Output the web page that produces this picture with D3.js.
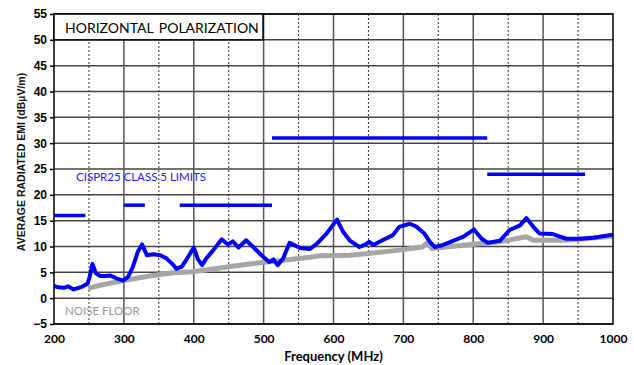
<!DOCTYPE html>
<html>
<head>
<meta charset="utf-8">
<script src="https://cdn.jsdelivr.net/npm/d3@7"></script>
<style>
  body { margin: 0; background: #fff; }
  svg { display: block; }
</style>
</head>
<body>
<div id="chart"></div>
<script>
var sigFreq = [200, 206, 214, 220, 228, 240, 248, 251, 255, 260, 266, 273, 280, 290, 299, 306, 313, 320, 326, 333, 342, 352, 361, 371, 375, 383, 392, 400, 406, 412, 418, 428, 440, 449, 456, 464, 475, 485, 497, 508, 514, 520, 528, 537, 542, 552, 566, 576, 590, 605, 614, 623, 637, 646, 651, 657, 670, 685, 694, 709, 718, 730, 738, 745, 757, 771, 786, 801, 812, 821, 838, 852, 867, 876, 886, 895, 914, 933, 953, 972, 1000];
var sigVal  = [2.4, 2.1, 2.0, 2.3, 1.7, 2.2, 2.8, 4.1, 6.6, 4.8, 4.3, 4.3, 4.4, 3.8, 3.4, 4.1, 6.1, 9.0, 10.4, 8.3, 8.5, 8.3, 7.7, 6.4, 5.7, 6.1, 8.0, 9.8, 7.5, 6.4, 7.7, 9.3, 11.4, 10.4, 11.0, 9.8, 11.2, 9.9, 8.3, 7.0, 7.5, 6.4, 7.7, 10.7, 10.4, 9.7, 9.5, 10.5, 12.5, 15.2, 12.8, 11.2, 9.9, 10.4, 10.9, 10.3, 11.2, 12.2, 13.8, 14.4, 13.9, 12.5, 10.9, 9.9, 10.3, 11.1, 11.9, 13.3, 11.5, 10.7, 11.1, 13.2, 14.1, 15.5, 13.8, 12.5, 12.4, 11.5, 11.5, 11.7, 12.3];

// grey: noise floor
var nfFreq = [249, 266, 299, 337, 371, 399, 440, 480, 504, 538, 566, 580, 623, 646, 694, 727, 734, 741, 789, 838, 876, 886, 933, 1000];
var nfVal  = [1.9, 2.5, 3.4, 4.3, 4.9, 5.1, 5.9, 6.6, 7.0, 7.5, 7.9, 8.2, 8.3, 8.6, 9.3, 9.9, 10.7, 9.6, 10.3, 10.9, 11.9, 11.2, 11.2, 12.0];

// limit segments [start, end, level]
var limStart = [200, 300, 380, 512, 820];
var limEnd   = [245, 330, 512, 820, 960];
var limLevel = [16, 18, 18, 31, 24];

var xTicks = [200, 300, 400, 500, 600, 700, 800, 900, 1000];
var yTicks = [-5, 0, 5, 10, 15, 20, 25, 30, 35, 40, 45, 50, 55];

var W = 634, H = 365;
var margin = {top: 14, right: 21, bottom: 41, left: 54};
var width = W - margin.left - margin.right,
    height = H - margin.top - margin.bottom;

var svg = d3.select('#chart').append('svg')
  .attr('width', W)
  .attr('height', H);

var g = svg.append('g').attr('transform', 'translate(' + margin.left + ',' + margin.top + ')');

var x = d3.scaleLinear().domain([200, 1000]).range([0, width]);
var y = d3.scaleLinear().domain([-5, 55]).range([height, 0]);

// horizontal grid
g.selectAll('.hgrid').data(yTicks).enter().append('line')
  .attr('x1', 0).attr('x2', width)
  .attr('y1', function(d){ return y(d); })
  .attr('y2', function(d){ return y(d); })
  .style('stroke', '#444')
  .style('stroke-width', 1.5);

// vertical grid: solid every 100, dashed on the 50s
var vLines = d3.range(250, 1000, 50);
g.selectAll('.vgrid').data(vLines).enter().append('line')
  .attr('x1', function(d){ return x(d); })
  .attr('x2', function(d){ return x(d); })
  .attr('y1', 0).attr('y2', height)
  .style('stroke', function(d){ return d % 100 === 0 ? '#555' : '#333'; })
  .style('stroke-width', function(d){ return d % 100 === 0 ? 1.5 : 1; })
  .style('stroke-dasharray', function(d){ return d % 100 === 0 ? null : '2,2'; });

// noise floor
var nfLine = d3.line()
  .x(function(d, i){ return x(nfFreq[i]); })
  .y(function(d){ return y(d); });
g.append('path')
  .datum(nfVal)
  .attr('d', nfLine)
  .style('fill', 'none')
  .style('stroke', '#a6a6a6')
  .style('stroke-width', 5)
  .style('stroke-linejoin', 'round');

// measured signal
var sigLine = d3.line()
  .x(function(d, i){ return x(sigFreq[i]); })
  .y(function(d){ return y(d); });
g.append('path')
  .datum(sigVal)
  .attr('d', sigLine)
  .style('fill', 'none')
  .style('stroke', '#0000ff')
  .style('stroke-width', 4)
  .style('stroke-linejoin', 'round');

// limits
g.selectAll('.lim').data(limLevel).enter().append('line')
  .attr('x1', function(d, i){ return x(limStart[i]); })
  .attr('x2', function(d, i){ return x(limEnd[i]); })
  .attr('y1', function(d){ return y(d); })
  .attr('y2', function(d){ return y(d); })
  .style('stroke', '#0000ff')
  .style('stroke-width', 3.5);

// frame
g.append('rect')
  .attr('width', width).attr('height', height)
  .style('fill', 'none')
  .style('stroke', '#000')
  .style('stroke-width', 1.5);

// title box
g.append('rect')
  .attr('x', 0).attr('y', 0)
  .attr('width', 209).attr('height', y(50))
  .style('fill', '#fff')
  .style('stroke', '#000')
  .style('stroke-width', 1.5);
g.append('text')
  .attr('x', 11).attr('y', 19)
  .style('font-family', 'Lato, sans-serif')
  .style('font-size', '14px')
  .style('word-spacing', '2px')
  .text('HORIZONTAL POLARIZATION');

// annotations
g.append('text')
  .attr('x', 22).attr('y', y(22.6))
  .style('font-family', 'Lato, sans-serif')
  .style('font-size', '11.5px')
  .style('fill', '#2323ff')
  .text('CISPR25 CLASS 5 LIMITS');
g.append('text')
  .attr('x', 11).attr('y', y(-3.3))
  .style('font-family', 'Lato, sans-serif')
  .style('font-size', '11.5px')
  .style('fill', '#9a9a9a')
  .text('NOISE FLOOR');

// axes
var yAxis = d3.axisLeft(y).tickValues(yTicks).tickSize(4).tickPadding(3)
  .tickFormat(function(d){ return d < 0 ? '\u2212' + Math.abs(d) : d; });
var ya = g.append('g').call(yAxis);
ya.select('.domain').remove();
ya.selectAll('line').style('stroke', '#000').style('stroke-width', 1.5);
ya.selectAll('text')
  .style('font-family', '"Liberation Sans Narrow", "Liberation Sans", sans-serif')
  .style('font-weight', 'bold')
  .style('font-size', '12px')
  .style('fill', '#000');

var xAxis = d3.axisBottom(x).tickValues(xTicks).tickSize(0).tickPadding(10)
  .tickFormat(d3.format('d'));
var xa = g.append('g').attr('transform', 'translate(0,' + height + ')').call(xAxis);
xa.select('.domain').remove();
xa.selectAll('text')
  .style('font-family', 'Lato, sans-serif')
  .style('font-weight', 'bold')
  .style('font-size', '12px')
  .style('fill', '#000');

svg.append('text')
  .attr('x', margin.left + width / 2).attr('y', 361)
  .attr('text-anchor', 'middle')
  .style('font-family', 'Lato, sans-serif')
  .style('font-weight', 'bold')
  .style('font-size', '13px')
  .text('Frequency (MHz)');

svg.append('text')
  .attr('transform', 'translate(25,162) rotate(-90)')
  .attr('text-anchor', 'middle')
  .style('font-family', '"Liberation Sans", sans-serif')
  .style('font-size', '10.5px')
  .style('font-weight', 'bold')
  .style('fill', '#111')
  .text('AVERAGE RADIATED EMI (dB\u00b5V/m)');
</script>
</body>
</html>
